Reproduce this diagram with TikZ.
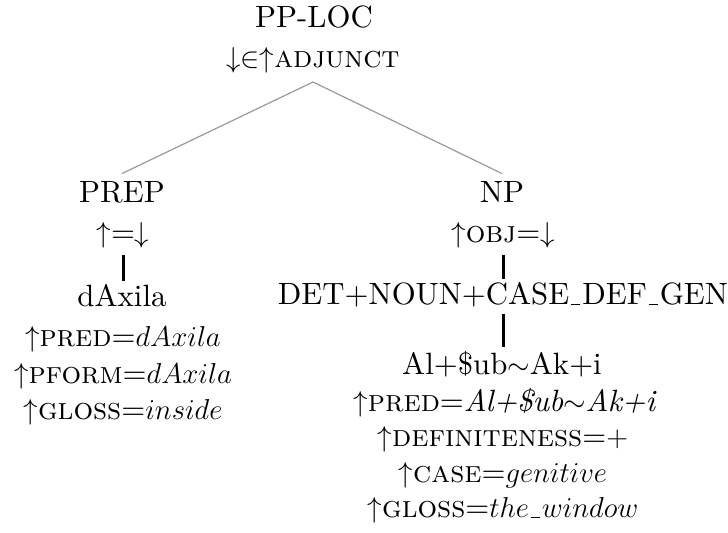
\documentclass[tikz,border=0pt]{standalone}
\usepackage{amsmath,amssymb}
\usepackage{fontspec}
\setmainfont{lmroman10-regular.otf}[
  ItalicFont=lmroman10-italic.otf,
  BoldFont=lmroman10-bold.otf,
  SmallCapsFont=lmromancaps10-regular.otf]
\usepackage{xcolor}
\usepackage{tikz}
\definecolor{TreeGray}{HTML}{9A9A9A}
\newcommand{\uscore}{\leavevmode\kern.06em\vbox{\hrule height 0.6pt width .3em}\kern.06em}
\tikzset{
  lbl/.style={inner sep=4pt,anchor=base,font=\fontsize{15.4}{18}\selectfont},
  branch/.style={line width=0.6pt,draw=TreeGray},
  projbar/.style={line width=1.5pt,draw=black,shorten <=-1pt,shorten >=-2pt}
}

\begin{document}
\begin{tikzpicture}[x=0.5pt,y=-0.5pt]
\useasboundingbox (0,0) rectangle (728,533);
% root
\node[lbl] (pploc) at (314,28) {PP-LOC};
\node[lbl] (adj) at (313,68) {$\downarrow\in\uparrow$\textsc{adjunct}};
% preposition
\node[lbl] (prep) at (122,203) {PREP};
\node[lbl] (prepeq) at (123,243) {$\uparrow$=$\downarrow$};
\node[lbl] (dax) at (122,307) {dAxila};
\node[lbl] (daxpred) at (123,347) {$\uparrow$\textsc{pred}=$dAxila$};
\node[lbl] (daxpform) at (123,384) {$\uparrow$\textsc{pform}=$dAxila$};
\node[lbl] (daxgloss) at (123,420) {$\uparrow$\textsc{gloss}=$inside$};
% noun phrase
\node[lbl] (np) at (502,203) {NP};
\node[lbl] (npobj) at (503,243) {$\uparrow$\textsc{obj}=$\downarrow$};
\node[lbl] (tag) at (503,305) {DET+NOUN+CASE\uscore DEF\uscore GEN};
\node[lbl] (shub) at (502,375) {Al+\$ub$\sim$Ak+i};
\node[lbl] (shubpred) at (505,412) {$\uparrow$\textsc{pred}=\textit{Al+\$ub$\sim$Ak+i}};
\node[lbl] (shubdef) at (503,447) {$\uparrow$\textsc{definiteness}=$+$};
\node[lbl] (shubcase) at (503,483) {$\uparrow$\textsc{case}=$genitive$};
\node[lbl] (shubgloss) at (503,518) {$\uparrow$\textsc{gloss}=$the$\uscore$window$};
% edges
\draw[branch] (adj.south) -- (prep.north);
\draw[branch] (adj.south) -- (np.north);
\draw[projbar] (prepeq.south) -- (prepeq.south |- dax.north);
\draw[projbar] (npobj.south) -- (npobj.south |- tag.north);
\draw[projbar] (tag.south -| npobj.south) -- (npobj.south |- shub.north);
\end{tikzpicture}
\end{document}
